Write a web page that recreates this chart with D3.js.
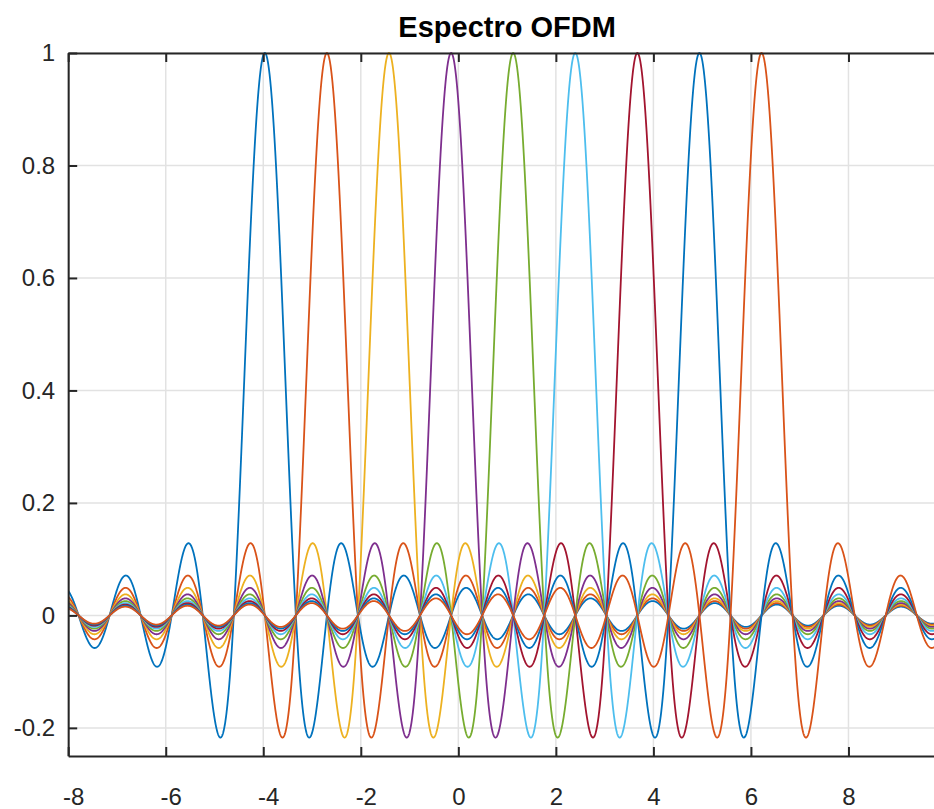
<!DOCTYPE html>
<html>
<head>
<meta charset="utf-8">
<script src="https://cdn.jsdelivr.net/npm/d3@7"></script>
<style>
  html, body { margin: 0; padding: 0; background: #ffffff; overflow: hidden; }
  svg { display: block; }
</style>
</head>
<body>
<script>
// ticks shown on the axes
var xTicks = [-8, -6, -4, -2, 0, 2, 4, 6, 8];
var yTicks = [-0.2, 0, 0.2, 0.4, 0.6, 0.8, 1];

// sub-carrier centre frequencies
var carrierCenters = [-3.968, -2.695, -1.422, -0.148, 1.125, 2.398, 3.671, 4.944, 6.218];
// distance from a peak to its first null (all carriers share the same width)
var nullSpacing = 0.6366;
// MATLAB default colour order, wrapping after 7
var carrierColors = ["#0072BD", "#D95319", "#EDB120", "#7E2F8E", "#77AC30", "#4DBEEE", "#A2142F", "#0072BD", "#D95319"];

var W = 934, H = 809;
var xDomain = [-8, 10];
var yDomain = [-0.25, 1];
var plot = { left: 68.2, right: 946, top: 53, bottom: 756 };
var axisColor = "#262626";
var gridColor = "#e2e2e2";
var fontFamily = "'Liberation Sans', Arial, Helvetica, sans-serif";

var svg = d3.select("body").append("svg")
    .attr("width", W)
    .attr("height", H)
    .style("background-color", "#ffffff");

var x = d3.scaleLinear().domain(xDomain).range([plot.left, plot.right]);
var y = d3.scaleLinear().domain(yDomain).range([plot.bottom, plot.top]);

// sampling grid along the frequency axis
var fs = d3.range(xDomain[0], xDomain[1] + 0.0001, 0.005);

function sinc(u) {
    if (Math.abs(u) < 1e-9) return 1;
    return Math.sin(Math.PI * u) / (Math.PI * u);
}

// grid lines
var grid = svg.append("g").attr("class", "grid");
grid.selectAll("line.gx")
    .data(xTicks)
    .enter()
    .append("line")
    .attr("x1", function (d) { return x(d); })
    .attr("x2", function (d) { return x(d); })
    .attr("y1", plot.top)
    .attr("y2", plot.bottom)
    .attr("stroke", gridColor)
    .attr("stroke-width", 1.5);
grid.selectAll("line.gy")
    .data(yTicks)
    .enter()
    .append("line")
    .attr("x1", plot.left)
    .attr("x2", plot.right)
    .attr("y1", function (d) { return y(d); })
    .attr("y2", function (d) { return y(d); })
    .attr("stroke", gridColor)
    .attr("stroke-width", 1.5);

// clip curves to the axes box
svg.append("clipPath").attr("id", "plotClip")
    .append("rect")
    .attr("x", plot.left)
    .attr("y", plot.top - 2)
    .attr("width", plot.right - plot.left)
    .attr("height", plot.bottom - plot.top + 2);

var line = d3.line()
    .x(function (d) { return x(d[0]); })
    .y(function (d) { return y(d[1]); });

var curves = svg.append("g").attr("clip-path", "url(#plotClip)");
carrierCenters.forEach(function (c, i) {
    var pts = fs.map(function (f) { return [f, sinc((f - c) / nullSpacing)]; });
    curves.append("path")
        .datum(pts)
        .attr("d", line)
        .attr("fill", "none")
        .attr("stroke", carrierColors[i])
        .attr("stroke-width", 1.8)
        .attr("stroke-linejoin", "round");
});

// axes (ticks pointing inward, MATLAB style)
function styleAxis(g) {
    g.select(".domain").attr("stroke", axisColor).attr("stroke-width", 2);
    g.selectAll(".tick line").attr("stroke", axisColor).attr("stroke-width", 2);
    g.selectAll(".tick text")
        .attr("fill", axisColor)
        .attr("font-family", fontFamily)
        .attr("font-size", "24px");
}

var xAxis = svg.append("g")
    .attr("transform", "translate(0," + plot.bottom + ")")
    .call(d3.axisBottom(x).tickValues(xTicks).tickSizeInner(-9).tickSizeOuter(0)
        .tickPadding(32).tickFormat(function (d) { return String(d); }));
styleAxis(xAxis);
xAxis.selectAll(".tick text").attr("dx", function (d) { return d < 0 ? 5 : 0; });

var xTop = svg.append("g")
    .attr("transform", "translate(0," + plot.top + ")")
    .call(d3.axisTop(x).tickValues(xTicks).tickSizeInner(-9).tickSizeOuter(0)
        .tickFormat(""));
styleAxis(xTop);

var yAxis = svg.append("g")
    .attr("transform", "translate(" + plot.left + ",0)")
    .call(d3.axisLeft(y).tickValues(yTicks).tickSizeInner(-9).tickSizeOuter(0)
        .tickPadding(13).tickFormat(function (d) { return String(d); }));
styleAxis(yAxis);

// title
svg.append("text")
    .attr("x", (plot.left + plot.right) / 2)
    .attr("y", 37)
    .attr("text-anchor", "middle")
    .attr("font-family", fontFamily)
    .attr("font-weight", "bold")
    .attr("font-size", "29px")
    .attr("fill", "#000000")
    .text("Espectro OFDM");
</script>
</body>
</html>
